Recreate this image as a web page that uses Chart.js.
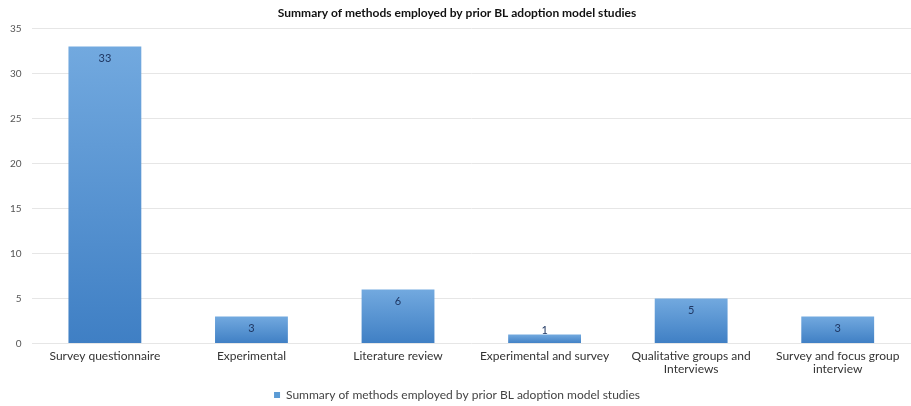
<!DOCTYPE html>
<html>
<head>
<meta charset="utf-8">
<title>Methods chart</title>
<script src="https://cdn.jsdelivr.net/npm/chart.js@4.4.1/dist/chart.umd.min.js"></script>
<style>
  html, body { margin: 0; padding: 0; background: #fff; }
  #wrap { width: 911px; height: 406px; }
</style>
</head>
<body>
<div id="wrap"><canvas id="methodsChart"></canvas></div>
<script>
    'use strict';

    var methodLabels = [
        'Survey questionnaire',
        'Experimental',
        'Literature review',
        'Experimental and survey',
        ['Qualitative groups and', 'Interviews'],
        ['Survey and focus group', 'interview']
    ];
    var studyCounts = [33, 3, 6, 1, 5, 3];
    var yTicks = [0, 5, 10, 15, 20, 25, 30, 35];

    var seriesName = 'Summary of methods employed by prior BL adoption model studies';
    var fontFamily = 'Lato, "Open Sans", sans-serif';

    // each bar gets its own vertical gradient, lighter at the top
    function barFill(context) {
        var chart = context.chart;
        var y = chart.scales && chart.scales.y;
        if (!y || context.raw === undefined) return '#5b9bd5';
        var top = y.getPixelForValue(context.raw);
        var bottom = y.getPixelForValue(0);
        if (!isFinite(top) || !isFinite(bottom) || bottom - top < 1) return '#5b9bd5';
        var g = chart.ctx.createLinearGradient(0, top, 0, bottom);
        g.addColorStop(0, '#72a9df');
        g.addColorStop(1, '#3f7fc4');
        return g;
    }

    // draw the value near the top of each bar
    var valueLabels = {
        id: 'valueLabels',
        afterDatasetsDraw: function (chart) {
            var ctx = chart.ctx;
            var meta = chart.getDatasetMeta(0);
            var base = chart.scales.y.getPixelForValue(0);
            ctx.save();
            ctx.font = '11px ' + fontFamily;
            ctx.fillStyle = '#1f3763';
            ctx.textAlign = 'center';
            ctx.textBaseline = 'middle';
            meta.data.forEach(function (bar, i) {
                var y = Math.min(bar.y + 12, base - 13);
                ctx.fillText(String(studyCounts[i]), bar.x, y);
            });
            ctx.restore();
        }
    };

    var ctx = document.getElementById('methodsChart').getContext('2d');

    var methodsChart = new Chart(ctx, {
        type: 'bar',
        data: {
            labels: methodLabels,
            datasets: [{
                label: seriesName,
                data: studyCounts,
                backgroundColor: barFill,
                borderWidth: 0,
                categoryPercentage: 1,
                barPercentage: 0.497
            }]
        },
        options: {
            responsive: true,
            maintainAspectRatio: false,
            animation: false,
            layout: { padding: { left: 0, right: -3, top: 6, bottom: -5 } },
            plugins: {
                title: {
                    display: true,
                    text: seriesName,
                    color: '#111',
                    font: { family: fontFamily, size: 12, weight: 'bold' },
                    padding: { top: 0, bottom: 8 }
                },
                legend: {
                    position: 'bottom',
                    labels: {
                        color: '#444',
                        font: { family: fontFamily, size: 12 },
                        boxWidth: 6,
                        boxHeight: 6,
                        padding: 3,
                        generateLabels: function (chart) {
                            return [{
                                text: seriesName,
                                fillStyle: '#5b9bd5',
                                strokeStyle: '#5b9bd5',
                                lineWidth: 0,
                                fontColor: '#444',
                                datasetIndex: 0
                            }];
                        }
                    }
                },
                tooltip: { enabled: false }
            },
            scales: {
                x: {
                    grid: { display: false },
                    border: { display: false },
                    ticks: {
                        color: '#333',
                        font: { family: fontFamily, size: 12, lineHeight: 1.1 },
                        maxRotation: 0,
                        autoSkip: false,
                        padding: -2
                    },
                    afterFit: function (scale) {
                        scale.height += 12;
                    }
                },
                y: {
                    min: 0,
                    max: 35,
                    afterBuildTicks: function (axis) {
                        axis.ticks = yTicks.map(function (v) { return { value: v }; });
                    },
                    grid: { color: '#e6e6e6', drawTicks: false },
                    border: { display: false },
                    ticks: {
                        color: '#555',
                        font: { family: fontFamily, size: 10 },
                        padding: 10
                    }
                }
            }
        },
        plugins: [valueLabels]
    });
</script>
</body>
</html>
